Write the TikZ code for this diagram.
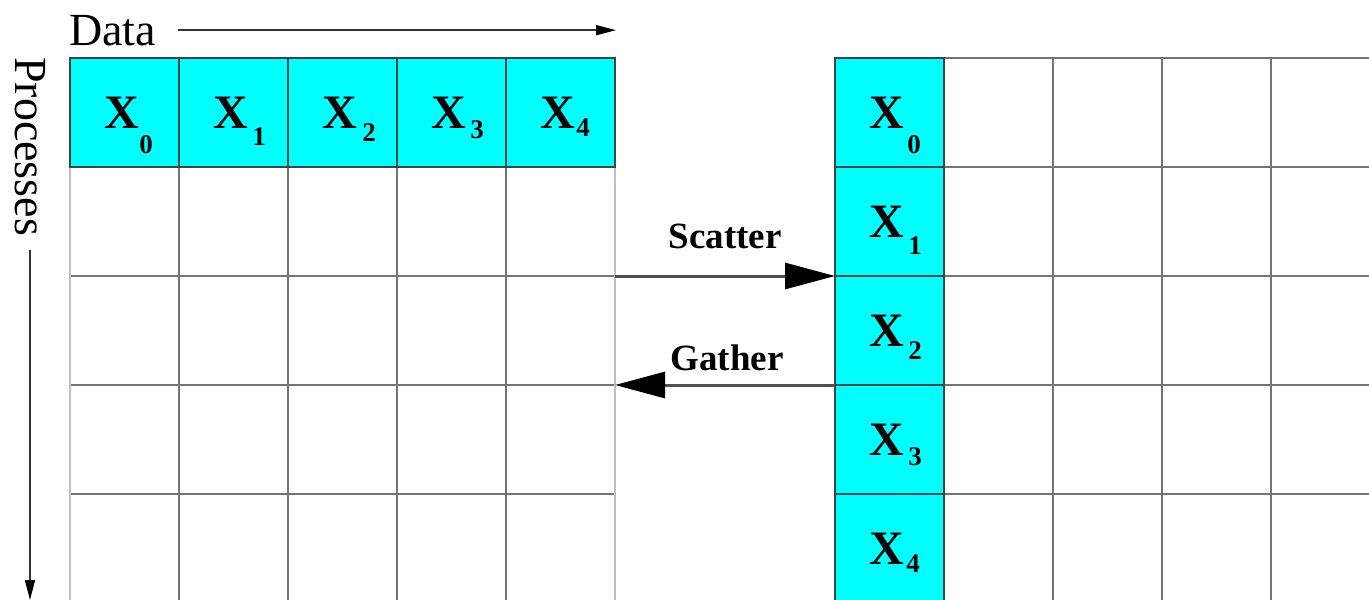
\documentclass[tikz,border=0pt]{standalone}
\usepackage{fontspec}
\setmainfont{Liberation Serif}
\usetikzlibrary{arrows.meta}
\definecolor{gridgray}{HTML}{747474}
\definecolor{edgegray}{HTML}{C0C0C0}
\definecolor{cyanfill}{HTML}{00FFFF}
\definecolor{cyanedge}{HTML}{354545}
\definecolor{arrowgray}{HTML}{505050}
\newcommand\xlab[3]{\kern-5pt X\rlap{\kern#1pt\smash{\raisebox{-#2pt}{\fontsize{27}{27}\selectfont\bfseries #3}}}}
\tikzset{
  cellbox/.style={draw=gridgray, line width=2.8pt, minimum width=109pt, minimum height=109pt, inner sep=0pt, outer sep=0pt, fill=white},
  datacell/.style={cellbox, draw=cyanedge, fill=cyanfill, font=\fontsize{48}{48}\selectfont\bfseries},
  bigarrow/.style={draw=arrowgray, line width=3pt, -{Triangle[length=50pt, width=26pt, color=black]}},
  thinarrow/.style={draw=black!80, line width=1.6pt, -{Triangle[length=20pt, width=10pt, color=black]}},
  axislabel/.style={font=\fontsize{46}{46}\selectfont, inner sep=0pt},
  oplabel/.style={font=\fontsize{37}{37}\selectfont\bfseries, inner sep=0pt}
}
\begin{document}
\begin{tikzpicture}[x=1pt, y=1pt]
\clip (0,0) rectangle (1369,-600);
\fill[white] (0,0) rectangle (1369,-600);
% white cells of left grid (rows 2-5)
\foreach \r in {2,...,5} {
  \foreach \c in {1,...,5} {
    \node[cellbox] (l-\r-\c) at ({70+109*(\c-1)+54.5}, {-(58+109*(\r-1)+54.5)}) {};
  }
}
% white cells of right grid (columns 2-5)
\foreach \r in {1,...,5} {
  \foreach \c in {2,...,5} {
    \node[cellbox] (r-\r-\c) at ({835+109*(\c-1)+54.5}, {-(58+109*(\r-1)+54.5)}) {};
  }
}
% light outer edges of the left grid
\draw[edgegray, line width=2.8pt] (l-2-1.north west) -- (l-5-1.south west);
\draw[edgegray, line width=2.8pt] (l-2-5.north east) -- (l-5-5.south east);
% data row of left grid
\node[datacell] (l-1-1) at (124.5,-112.5) {\xlab{0}{25}{0}};
\node[datacell] (l-1-2) at (233.5,-112.5) {\xlab{4}{17}{1}};
\node[datacell] (l-1-3) at (342.5,-112.5) {\xlab{5}{13}{2}};
\node[datacell] (l-1-4) at (451.5,-112.5) {\xlab{4}{10}{3}};
\node[datacell] (l-1-5) at (560.5,-112.5) {\xlab{1}{8}{4}};
% data column of right grid
\node[datacell] (r-1-1) at (889.5,-112.5) {\xlab{3}{25}{0}};
\node[datacell] (r-2-1) at (889.5,-221.5) {\xlab{4}{17}{1}};
\node[datacell] (r-3-1) at (889.5,-330.5) {\xlab{4}{13}{2}};
\node[datacell] (r-4-1) at (889.5,-439.5) {\xlab{4}{10}{3}};
\node[datacell] (r-5-1) at (889.5,-548.5) {\xlab{2}{8}{4}};
% axes
\node[axislabel, anchor=base west] (data) at (69,-45) {Data};
\coordinate (dataend) at (616,-32);
\draw[thinarrow] ([xshift=22pt]data.east) -- (dataend |- data.east);
\node[axislabel, rotate=-90, anchor=west] (proc) at (30,-57) {Processes};
\coordinate (procend) at (30,-600);
\draw[thinarrow] ([yshift=-14pt]proc.east) -- (procend);
% scatter / gather
\node[oplabel] (scatter) at (725,-236) {Scatter};
\node[oplabel] (gather) at (727,-358) {Gather};
\draw[bigarrow] (l-2-5.south east) -- (r-2-1.south west);
\draw[bigarrow] (r-3-1.south west) -- (l-3-5.south east);
\end{tikzpicture}
\end{document}
